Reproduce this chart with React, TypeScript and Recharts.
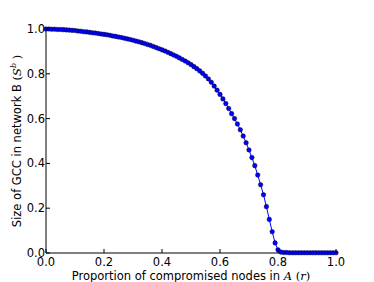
import React from 'react';
import { LineChart, Line, XAxis, YAxis } from 'recharts';

// proportion of compromised nodes in A (r)
const rValues = [
  0.0, 0.01, 0.02, 0.03, 0.04, 0.05, 0.06, 0.07, 0.08, 0.09,
  0.1, 0.11, 0.12, 0.13, 0.14, 0.15, 0.16, 0.17, 0.18, 0.19,
  0.2, 0.21, 0.22, 0.23, 0.24, 0.25, 0.26, 0.27, 0.28, 0.29,
  0.3, 0.31, 0.32, 0.33, 0.34, 0.35, 0.36, 0.37, 0.38, 0.39,
  0.4, 0.41, 0.42, 0.43, 0.44, 0.45, 0.46, 0.47, 0.48, 0.49,
  0.5, 0.51, 0.52, 0.53, 0.54, 0.55, 0.56, 0.57, 0.58, 0.59,
  0.6, 0.61, 0.62, 0.63, 0.64, 0.65, 0.66, 0.67, 0.68, 0.69,
  0.7, 0.71, 0.72, 0.73, 0.74, 0.75, 0.76, 0.77, 0.78, 0.79,
  0.8, 0.81, 0.82, 0.83, 0.84, 0.85, 0.86, 0.87, 0.88, 0.89,
  0.9, 0.91, 0.92, 0.93, 0.94, 0.95, 0.96, 0.97, 0.98, 0.99,
  1.0,
];

// size of GCC in network B
const gccB = [
  1.0, 1.0, 0.999, 0.999, 0.998, 0.998, 0.997, 0.996, 0.995, 0.994,
  0.993, 0.991, 0.99, 0.988, 0.987, 0.985, 0.983, 0.982, 0.98, 0.978,
  0.976, 0.974, 0.972, 0.969, 0.967, 0.964, 0.962, 0.959, 0.956, 0.953,
  0.95, 0.946, 0.943, 0.939, 0.935, 0.931, 0.927, 0.922, 0.917, 0.912,
  0.907, 0.902, 0.896, 0.89, 0.884, 0.878, 0.871, 0.864, 0.857, 0.849,
  0.841, 0.832, 0.823, 0.813, 0.802, 0.79, 0.777, 0.762, 0.745, 0.727,
  0.708, 0.688, 0.667, 0.645, 0.622, 0.6, 0.576, 0.55, 0.522, 0.492,
  0.46, 0.426, 0.39, 0.348, 0.305, 0.26, 0.207, 0.15, 0.095, 0.045,
  0.014, 0.004, 0.002, 0.002, 0.001, 0.001, 0.001, 0.001, 0.001, 0.001,
  0.001, 0.001, 0.001, 0.001, 0.001, 0.001, 0.001, 0.001, 0.001, 0.001,
  0.001,
];

const axisTicks = [0, 0.2, 0.4, 0.6, 0.8, 1.0];

const data = rValues.map((r, i) => ({ r, s: gccB[i] }));

const FONT = '"DejaVu Sans", sans-serif';
const MATH = '"DejaVu Serif", serif';
const FS = 11.5;
const TICK_LEN = 4;

const BottomTick = (props: any) => {
  const { x, y, payload } = props;
  return (
    <g>
      <line x1={x} y1={y - 2} x2={x} y2={y - 2 - TICK_LEN} stroke="#000" />
      <text x={x} y={y} dy={10.5} textAnchor="middle" fontSize={FS} fontFamily={FONT} fill="#000">
        {payload.value.toFixed(1)}
      </text>
    </g>
  );
};

const LeftTick = (props: any) => {
  const { x, y, payload } = props;
  return (
    <g>
      <line x1={x + 1} y1={y} x2={x + 1 + TICK_LEN} y2={y} stroke="#000" />
      <text x={x} y={y} dy={4} textAnchor="end" fontSize={FS} fontFamily={FONT} fill="#000">
        {payload.value.toFixed(1)}
      </text>
    </g>
  );
};

const TopTick = (props: any) => {
  const { x, y } = props;
  return <line x1={x} y1={y} x2={x} y2={y + TICK_LEN} stroke="#000" />;
};

const RightTick = (props: any) => {
  const { x, y } = props;
  return <line x1={x} y1={y} x2={x - TICK_LEN} y2={y} stroke="#000" />;
};

const XTitle = (props: any) => {
  const vb = props.viewBox;
  return (
    <text x={vb.x + vb.width / 2} y={280} textAnchor="middle" fontSize={FS} fontFamily={FONT} fill="#000">
      Proportion of compromised nodes in{' '}
      <tspan fontFamily={MATH} fontStyle="italic">A</tspan>{' '}
      <tspan fontFamily={MATH}>(</tspan>
      <tspan fontFamily={MATH} fontStyle="italic">r</tspan>
      <tspan fontFamily={MATH}>)</tspan>
    </text>
  );
};

const YTitle = (props: any) => {
  const vb = props.viewBox;
  const cx = 21;
  const cy = vb.y + vb.height / 2;
  return (
    <text
      x={cx}
      y={cy}
      transform={`rotate(-90, ${cx}, ${cy})`}
      textAnchor="middle"
      fontSize={FS}
      fontFamily={FONT}
      fill="#000"
    >
      Size of GCC in network B{' '}
      <tspan fontFamily={MATH}>(</tspan>
      <tspan fontFamily={MATH} fontStyle="italic">S</tspan>
      <tspan fontFamily={MATH} fontStyle="italic" fontSize={8} dy={-5}>b</tspan>
      <tspan fontFamily={MATH} dy={5}> )</tspan>
    </text>
  );
};

export default function App() {
  return (
    <div style={{ position: 'absolute', left: 0, top: 0, background: '#fff' }}>
      <LineChart
        width={374}
        height={282}
        data={data}
        margin={{ top: 29, right: 38, left: 6, bottom: 4 }}
      >
        <XAxis
          dataKey="r"
          type="number"
          domain={[0, 1]}
          ticks={axisTicks}
          height={25}
          tickSize={0}
          tickMargin={2}
          tick={<BottomTick />}
          axisLine={{ stroke: '#000' }}
          label={<XTitle />}
        />
        <XAxis
          xAxisId="top"
          orientation="top"
          dataKey="r"
          type="number"
          domain={[0, 1]}
          ticks={axisTicks}
          height={0}
          tickSize={0}
          tickMargin={0}
          tick={<TopTick />}
          axisLine={{ stroke: '#000' }}
        />
        <YAxis
          type="number"
          domain={[0, 1]}
          ticks={axisTicks}
          width={40}
          tickSize={0}
          tickMargin={1}
          tick={<LeftTick />}
          axisLine={{ stroke: '#000' }}
          label={<YTitle />}
        />
        <YAxis
          yAxisId="right"
          orientation="right"
          type="number"
          domain={[0, 1]}
          ticks={axisTicks}
          width={0}
          tickSize={0}
          tickMargin={0}
          tick={<RightTick />}
          axisLine={{ stroke: '#000' }}
        />
        <Line
          dataKey="s"
          type="linear"
          stroke="#0000ff"
          strokeWidth={1}
          dot={{ r: 2.3, fill: '#0000ff', stroke: '#000', strokeWidth: 0.4 }}
          isAnimationActive={false}
        />
      </LineChart>
    </div>
  );
}
